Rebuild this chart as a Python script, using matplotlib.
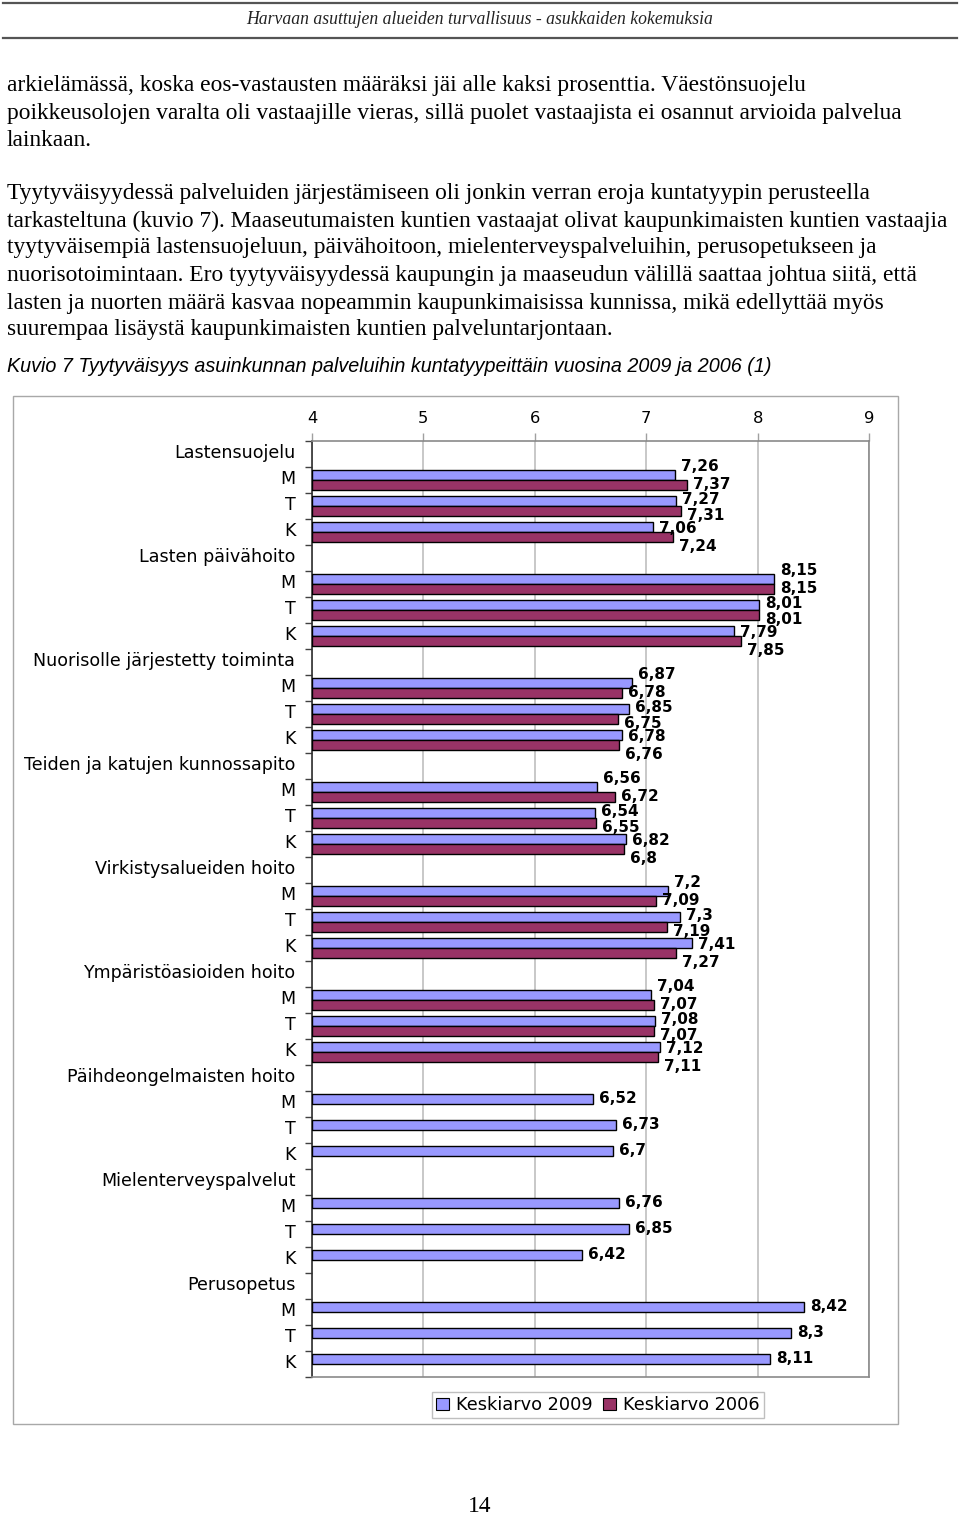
import numpy as np
import matplotlib
matplotlib.use("Agg")
import matplotlib.pyplot as plt
from matplotlib.patches import Rectangle, Patch
from matplotlib.lines import Line2D
from matplotlib.ticker import FixedLocator
from matplotlib.transforms import ScaledTranslation

# ---------------- data ----------------
services = ["Lastensuojelu", "Lasten päivähoito", "Nuorisolle järjestetty toiminta",
            "Teiden ja katujen kunnossapito", "Virkistysalueiden hoito",
            "Ympäristöasioiden hoito", "Päihdeongelmaisten hoito",
            "Mielenterveyspalvelut", "Perusopetus"]
municipality_types = ["M", "T", "K"]
mean_2009 = [[7.26, 7.27, 7.06], [8.15, 8.01, 7.79], [6.87, 6.85, 6.78],
             [6.56, 6.54, 6.82], [7.20, 7.30, 7.41], [7.04, 7.08, 7.12],
             [6.52, 6.73, 6.70], [6.76, 6.85, 6.42], [8.42, 8.30, 8.11]]
mean_2006 = [[7.37, 7.31, 7.24], [8.15, 8.01, 7.85], [6.78, 6.75, 6.76],
             [6.72, 6.55, 6.80], [7.09, 7.19, 7.27], [7.07, 7.07, 7.11],
             [None, None, None], [None, None, None], [None, None, None]]
x_ticks = [4, 5, 6, 7, 8, 9]
series_names = ["Keskiarvo 2009", "Keskiarvo 2006"]

header = "Harvaan asuttujen alueiden turvallisuus - asukkaiden kokemuksia"
body_lines = [
    (86, "arkielämässä, koska eos-vastausten määräksi jäi alle kaksi prosenttia. Väestönsuojelu"),
    (113, "poikkeusolojen varalta oli vastaajille vieras, sillä puolet vastaajista ei osannut arvioida palvelua"),
    (140, "lainkaan."),
    (194, "Tyytyväisyydessä palveluiden järjestämiseen oli jonkin verran eroja kuntatyypin perusteella"),
    (221, "tarkasteltuna (kuvio 7). Maaseutumaisten kuntien vastaajat olivat kaupunkimaisten kuntien vastaajia"),
    (248, "tyytyväisempiä lastensuojeluun, päivähoitoon, mielenterveyspalveluihin, perusopetukseen ja"),
    (275, "nuorisotoimintaan. Ero tyytyväisyydessä kaupungin ja maaseudun välillä saattaa johtua siitä, että"),
    (303, "lasten ja nuorten määrä kasvaa nopeammin kaupunkimaisissa kunnissa, mikä edellyttää myös"),
    (330, "suurempaa lisäystä kaupunkimaisten kuntien palveluntarjontaan."),
]
caption = "Kuvio 7 Tyytyväisyys asuinkunnan palveluihin kuntatyypeittäin vuosina 2009 ja 2006 (1)"
page_number = "14"

# ---------------- figure ----------------
W, H = 960, 1516
fig = plt.figure(figsize=(W / 100, H / 100), dpi=100)
fig.patch.set_facecolor("white")

def fx(x):
    return x / W

def fy(y):
    return 1 - y / H

# header lines
for yy in (3, 38):
    fig.add_artist(Line2D([fx(3), fx(957)], [fy(yy), fy(yy)], color="#555555", lw=1.6))
fig.text(fx(480), fy(20), header, ha="center", va="center",
         family="Liberation Serif", style="italic", fontsize=12.7, color="#222222")

for yy, line in body_lines:
    fig.text(fx(7), fy(yy), line, ha="left", va="center",
             family="Liberation Serif", fontsize=16.9, color="black")

fig.text(fx(7), fy(367), caption, ha="left", va="center",
         family="Liberation Sans", style="italic", fontsize=14.2, color="black")

fig.text(fx(480), fy(1507), page_number, ha="center", va="center",
         family="Liberation Serif", fontsize=16.9, color="black")

# chart outer frame
fig.add_artist(Rectangle((fx(13), fy(1424)), fx(898) - fx(13), fy(396) - fy(1424),
                         fill=False, edgecolor="#a8a8a8", lw=1.0))

# ---------------- chart ----------------
labels = []
rows_2009 = []
rows_2006 = []
for s, v09, v06 in zip(services, mean_2009, mean_2006):
    labels.append(s)
    rows_2009.append(None)
    rows_2006.append(None)
    for t, a, b in zip(municipality_types, v09, v06):
        labels.append(t)
        rows_2009.append(a)
        rows_2006.append(b)

n = len(labels)
ax = fig.add_axes([fx(312), fy(1377), fx(869) - fx(312), fy(441) - fy(1377)])
ax.set_xlim(4, 9)
ax.set_ylim(n - 0.5, -0.5)

blue = "#9999FF"
red = "#993366"
h = 0.40
lab_font = dict(family="DejaVu Sans", fontsize=11, fontweight="bold", color="black")
dy_blue = [8, 1, -2]      # pixel nudges of labels per position in group
dy_red = [1, -4, -9]

for i in range(n):
    a = rows_2009[i]
    b = rows_2006[i]
    if a is None:
        continue
    pos = municipality_types.index(labels[i])
    both = b is not None
    ax.barh(i - 0.2, a - 4, left=4, height=h, color=blue, edgecolor="black", lw=1.0, zorder=3)
    ax.annotate(f"{a:g}".replace(".", ","), (a, i - 0.2), xytext=(6, dy_blue[pos] if both else 0),
                textcoords="offset pixels", ha="left", va="center", zorder=5, **lab_font)
    if both:
        ax.barh(i + 0.2, b - 4, left=4, height=h, color=red, edgecolor="black", lw=1.0, zorder=3)
        ax.annotate(f"{b:g}".replace(".", ","), (b, i + 0.2), xytext=(6, dy_red[pos]),
                    textcoords="offset pixels", ha="left", va="center", zorder=5, **lab_font)

ax.xaxis.tick_top()
ax.set_xticks(x_ticks)
ax.set_xticklabels([str(v) for v in x_ticks], family="DejaVu Sans", fontsize=11.8)
ax.tick_params(axis="x", which="major", length=6, width=1, color="#a0a0a0", pad=4.5)
ax.grid(axis="x", color="#c8c8c8", lw=1.4, zorder=0)

ax.set_yticks(range(n))
ax.set_yticklabels(labels, family="DejaVu Sans", fontsize=12.6)
ax.yaxis.set_minor_locator(FixedLocator(np.arange(-0.5, n, 1.0)))
ax.tick_params(axis="y", which="major", length=0, pad=12)
ax.tick_params(axis="y", which="minor", length=5, width=1, color="#404040")
shift = ScaledTranslation(0, 3 / 100, fig.dpi_scale_trans)
for lbl in ax.get_yticklabels():
    lbl.set_transform(lbl.get_transform() + shift)

for side in ("top", "right", "bottom"):
    ax.spines[side].set_color("#8a8a8a")
    ax.spines[side].set_linewidth(1.2)
ax.spines["left"].set_color("#303030")
ax.spines["left"].set_linewidth(1.2)

handles = [Patch(facecolor=blue, edgecolor="black", lw=0.8),
           Patch(facecolor=red, edgecolor="black", lw=0.8)]
leg = fig.legend(handles, series_names, loc="center", bbox_to_anchor=(fx(598), fy(1405)),
                 ncol=2, frameon=True, fancybox=False, handlelength=0.7, handleheight=0.7,
                 handletextpad=0.4, columnspacing=0.6, borderpad=0.25,
                 prop=dict(family="DejaVu Sans", size=12.8))
leg.get_frame().set_edgecolor("#b0b0b0")
leg.get_frame().set_linewidth(1.0)

fig.savefig("out.png", dpi=100, facecolor="white")
